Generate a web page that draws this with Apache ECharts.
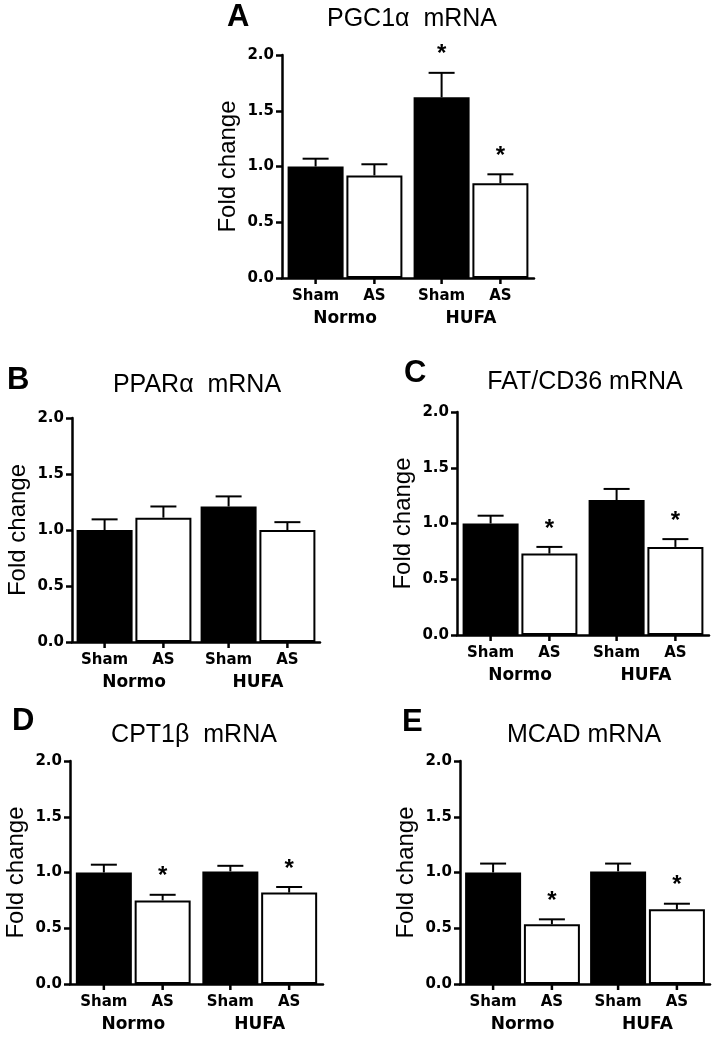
<!DOCTYPE html>
<html>
<head>
<meta charset="utf-8">
<script src="https://cdn.jsdelivr.net/npm/echarts@6/dist/echarts.min.js"></script>
<style>
  html, body { margin: 0; padding: 0; background: #fff; }
  #chart { width: 718px; height: 1038px; }
</style>
</head>
<body>
<div id="chart"></div>
<script>
// groups on the x axis, bars inside each group
const groups = ['Normo', 'HUFA'];
const treatments = ['Sham', 'AS'];
const letters = ['A', 'B', 'C', 'D', 'E'];
const titles = ['PGC1\u03b1  mRNA', 'PPAR\u03b1  mRNA', 'FAT/CD36 mRNA', 'CPT1\u03b2  mRNA', 'MCAD mRNA'];

// fold change, one row per panel: [Normo, HUFA]
const shamMean = [[1.00, 1.62], [1.00, 1.21], [1.00, 1.21], [1.00, 1.01], [1.00, 1.01]];
const shamSem  = [[0.07, 0.22], [0.095, 0.09], [0.07, 0.10], [0.07, 0.05], [0.08, 0.07]];
const asMean   = [[0.92, 0.85], [1.11, 1.00], [0.73, 0.79], [0.75, 0.82], [0.535, 0.67]];
const asSem    = [[0.10, 0.08], [0.10, 0.07], [0.06, 0.07], [0.05, 0.05], [0.045, 0.05]];
// significance marks (*)
const shamStar = [[0, 1], [0, 0], [0, 0], [0, 0], [0, 0]];
const asStar   = [[0, 1], [0, 0], [1, 1], [1, 1], [1, 1]];

const yMin = 0, yMax = 2, yStep = 0.5;

// layout of the five panels
const grids = [
  { left: 282, top: 55, width: 252, height: 223 },
  { left: 72, top: 418, width: 248, height: 224 },
  { left: 457, top: 412, width: 252, height: 223 },
  { left: 70, top: 761, width: 253, height: 223 },
  { left: 460, top: 761, width: 250, height: 223 }
];
const letterPos = [[227, 17], [7, 380], [404, 373], [12, 721], [402, 722]];
const titlePos = [[412, 19], [197, 385], [585, 382], [194, 735], [584, 735]];

const FONT = '"Liberation Sans", Arial, sans-serif';
const BOLD = '"DejaVu Sans", sans-serif';
const BAR_W = 56;
const BAR_GAP = 0.05;
const CAP = 13;

const chart = echarts.init(document.getElementById('chart'));

function renderErr(params, api) {
  const cat = api.value(0);
  const s = api.value(1);
  const mean = api.value(2);
  const err = api.value(3);
  const star = api.value(4);
  const base = api.coord([cat, mean]);
  const top = api.coord([cat, mean + err]);
  const zero = api.coord([cat, 0]);
  const x = base[0] + (s === 0 ? -1 : 1) * BAR_W * (1 + BAR_GAP) / 2;
  const st = { stroke: '#000', lineWidth: 2 };
  const kids = [
    { type: 'line', shape: { x1: x, y1: base[1], x2: x, y2: top[1] }, style: st },
    { type: 'line', shape: { x1: x - CAP, y1: top[1], x2: x + CAP, y2: top[1] }, style: st },
    { type: 'line', shape: { x1: x, y1: zero[1], x2: x, y2: zero[1] + 6 }, style: { stroke: '#000', lineWidth: 2.5 } }
  ];
  if (star) {
    kids.push({
      type: 'text',
      style: { text: '*', x: x, y: top[1] - 6, align: 'center', verticalAlign: 'bottom',
               font: 'bold 24px ' + FONT, fill: '#000' }
    });
  }
  return { type: 'group', children: kids };
}

const xAxes = [], yAxes = [], series = [], graphics = [];

grids.forEach((g, i) => {
  xAxes.push({
    gridIndex: i,
    type: 'category',
    data: groups,
    axisLine: { lineStyle: { color: '#000', width: 2.5 } },
    axisTick: { show: false },
    axisLabel: { margin: 32, color: '#000', fontFamily: BOLD, fontWeight: 'bold', fontSize: 17 }
  });
  yAxes.push({
    gridIndex: i,
    type: 'value',
    min: yMin, max: yMax, interval: yStep,
    name: 'Fold change',
    nameLocation: 'middle',
    nameRotate: 90,
    nameGap: 42,
    nameTextStyle: { color: '#000', fontFamily: FONT, fontSize: 24 },
    splitLine: { show: false },
    axisLine: { show: true, lineStyle: { color: '#000', width: 2.5 } },
    axisTick: { show: true, length: 6, lineStyle: { color: '#000', width: 2.5 } },
    axisLabel: { margin: 8, color: '#000', fontFamily: BOLD, fontWeight: 'bold', fontSize: 15,
                 formatter: v => v.toFixed(1) }
  });

  const lbl = { show: true, position: 'bottom', distance: 11, formatter: '{a}',
                color: '#000', fontFamily: BOLD, fontWeight: 'bold', fontSize: 15 };
  series.push({
    type: 'bar', name: treatments[0], xAxisIndex: i, yAxisIndex: i,
    data: shamMean[i], barWidth: BAR_W, barGap: (BAR_GAP * 100) + '%',
    itemStyle: { color: '#000' }, label: lbl
  });
  series.push({
    type: 'bar', name: treatments[1], xAxisIndex: i, yAxisIndex: i,
    data: asMean[i], barWidth: BAR_W, barGap: (BAR_GAP * 100) + '%',
    itemStyle: { color: '#fff', borderColor: '#000', borderWidth: 2 }, label: lbl
  });

  const errData = [];
  groups.forEach((_, k) => {
    errData.push([k, 0, shamMean[i][k], shamSem[i][k], shamStar[i][k]]);
    errData.push([k, 1, asMean[i][k], asSem[i][k], asStar[i][k]]);
  });
  series.push({
    type: 'custom', xAxisIndex: i, yAxisIndex: i, z: 5,
    renderItem: renderErr, data: errData, encode: { x: 0, y: 2 }, clip: false
  });

  graphics.push({
    type: 'text', x: letterPos[i][0], y: letterPos[i][1],
    style: { text: letters[i], font: 'bold 31px ' + FONT, fill: '#000', align: 'left', verticalAlign: 'middle' }
  });
  graphics.push({
    type: 'text', x: titlePos[i][0], y: titlePos[i][1],
    style: { text: titles[i], font: '25px ' + FONT, fill: '#000', align: 'center', verticalAlign: 'middle' }
  });
});

chart.setOption({
  animation: false,
  backgroundColor: '#fff',
  grid: grids,
  xAxis: xAxes,
  yAxis: yAxes,
  series: series,
  graphic: graphics
});
</script>
</body>
</html>
